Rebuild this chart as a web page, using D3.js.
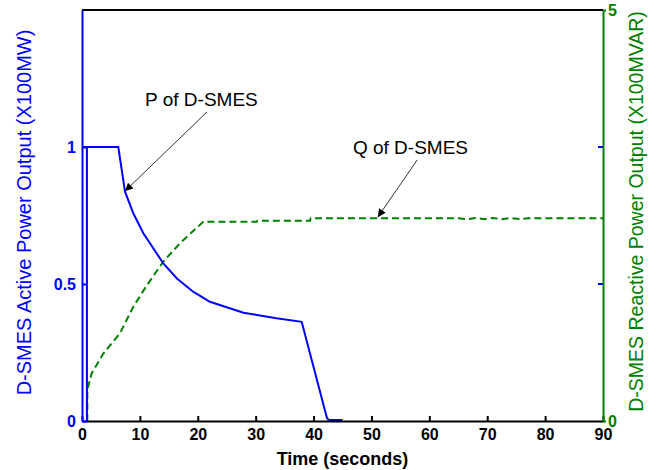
<!DOCTYPE html>
<html>
<head>
<meta charset="utf-8">
<script src="https://cdn.jsdelivr.net/npm/d3@7"></script>
<style>
  body { margin: 0; background: #fff; }
  svg { font-family: "Liberation Sans", Arial, sans-serif; }
</style>
</head>
<body>
<div id="chart"></div>
<script>
// time ticks (seconds)
const xTicks = [0, 10, 20, 30, 40, 50, 60, 70, 80, 90];
const leftTicks = [0, 0.5, 1];
const rightTicks = [0, 5];

// P of D-SMES, [time, X100MW]
const pData = [
    [0, 1], [0.85, 1], [0.85, 0], [0.85, 1], [6.27, 1], [7.43, 0.837],
    [8.86, 0.758], [10.6, 0.685], [14.05, 0.575], [16.4, 0.52], [19.2, 0.472],
    [22.1, 0.435], [27.9, 0.395], [33.6, 0.375], [37.95, 0.362],
    [42.3, 0.012], [42.6, 0.004], [45, 0.004]
];

// Q of D-SMES, [time, X100MVAR]
const qData = [
    [0.92, 0], [0.92, 0.377], [1.67, 0.58], [3.68, 0.82], [6.56, 1.067],
    [8.86, 1.39], [11.2, 1.65], [14.05, 1.94], [16.9, 2.16], [20.96, 2.425],
    [30.2, 2.425], [30.3, 2.437], [39.4, 2.437], [39.5, 2.466], [65, 2.466],
    [66.5, 2.454], [68, 2.47], [69.5, 2.456], [71, 2.47], [72.5, 2.455],
    [74, 2.47], [75.5, 2.457], [77, 2.466], [90, 2.466]
];

const width = 663, height = 470;
const margin = { left: 82, right: 60, top: 10, bottom: 49 };

const svg = d3.select("#chart").append("svg")
    .attr("width", width)
    .attr("height", height);

const x = d3.scaleLinear().domain([0, 90]).range([margin.left, width - margin.right]);
const yL = d3.scaleLinear().domain([0, 1.5]).range([height - margin.bottom, margin.top]);
const yR = d3.scaleLinear().domain([0, 5]).range([height - margin.bottom, margin.top]);

const blue = "#0000ff", green = "#008000";
const x0 = x(0), x1 = x(90), yb = yL(0), yt = yL(1.5);
const fmt = d3.format("~g");

// frame top
svg.append("line").attr("x1", x0).attr("x2", x1).attr("y1", yt).attr("y2", yt)
    .attr("stroke", "#000").attr("stroke-width", 2);

// curves
const lineP = d3.line().x(d => x(d[0])).y(d => yL(d[1]));
const lineQ = d3.line().x(d => x(d[0])).y(d => yR(d[1]));

svg.append("path").datum(qData).attr("d", lineQ)
    .attr("fill", "none").attr("stroke", green).attr("stroke-width", 2)
    .attr("stroke-dasharray", "7,4");

svg.append("path").datum(pData).attr("d", lineP)
    .attr("fill", "none").attr("stroke", blue).attr("stroke-width", 2);

// bottom axis
const xAxis = svg.append("g").attr("transform", `translate(0,${yb})`)
    .call(d3.axisBottom(x).tickValues(xTicks).tickFormat(fmt)
        .tickSizeInner(-5).tickSizeOuter(0).tickPadding(8));
xAxis.select(".domain").attr("stroke", "#000").attr("stroke-width", 2);
xAxis.selectAll(".tick line").attr("stroke", "#000").attr("stroke-width", 2);
xAxis.selectAll("text").attr("font-size", 16).attr("font-weight", "bold").attr("fill", "#000");

// left axis
const lAxis = svg.append("g").attr("transform", `translate(${x0},0)`)
    .call(d3.axisLeft(yL).tickValues(leftTicks).tickFormat(fmt)
        .tickSizeInner(-5).tickSizeOuter(0).tickPadding(6));
lAxis.select(".domain").attr("stroke", blue).attr("stroke-width", 2);
lAxis.selectAll(".tick line").attr("stroke", blue).attr("stroke-width", 2);
lAxis.selectAll("text").attr("font-size", 16).attr("font-weight", "bold").attr("fill", blue);

// left ticks mirrored on the right side
svg.append("g").selectAll("line").data(leftTicks.filter(d => d > 0)).join("line")
    .attr("x1", x1 - 5).attr("x2", x1).attr("y1", d => yL(d)).attr("y2", d => yL(d))
    .attr("stroke", blue).attr("stroke-width", 2);

// right axis
const rAxis = svg.append("g").attr("transform", `translate(${x1},0)`)
    .call(d3.axisRight(yR).tickValues(rightTicks).tickFormat(fmt)
        .tickSizeInner(3).tickSizeOuter(0).tickPadding(2));
rAxis.select(".domain").attr("stroke", green).attr("stroke-width", 2);
rAxis.selectAll(".tick line").attr("stroke", green).attr("stroke-width", 2);
rAxis.selectAll("text").attr("font-size", 16).attr("font-weight", "bold").attr("fill", green);

// axis titles
svg.append("text")
    .attr("transform", `translate(31,${(yt + yb) / 2 - 3}) rotate(-90)`)
    .attr("text-anchor", "middle")
    .attr("font-size", 20).attr("fill", blue)
    .text("D-SMES Active Power Output (X100MW)");

svg.append("text")
    .attr("transform", `translate(638,${(yt + yb) / 2 - 4}) rotate(-90)`)
    .attr("text-anchor", "middle").attr("dominant-baseline", "middle")
    .attr("font-size", 19.5).attr("fill", green)
    .text("D-SMES Reactive Power Output (X100MVAR)");

svg.append("text")
    .attr("x", (x0 + x1) / 2).attr("y", 465)
    .attr("text-anchor", "middle")
    .attr("font-size", 18).attr("font-weight", "bold").attr("fill", "#000")
    .text("Time (seconds)");

// annotations
const defs = svg.append("defs");
defs.append("marker").attr("id", "arrow")
    .attr("viewBox", "0 0 10 10").attr("refX", 10).attr("refY", 5)
    .attr("markerWidth", 11).attr("markerHeight", 8)
    .attr("markerUnits", "userSpaceOnUse").attr("orient", "auto")
    .append("path").attr("d", "M0,0L10,5L0,10Z").attr("fill", "#000");

const notes = [
    { label: "P of D-SMES", y: yL, tx: 10.9, ty: 1.15, from: [21.6, 1.128], to: [7.43, 0.839] },
    { label: "Q of D-SMES", y: yR, tx: 46.8, ty: 3.245, from: [57.9, 3.175], to: [51.1, 2.48] }
];

notes.forEach(n => {
    svg.append("line")
        .attr("x1", x(n.from[0])).attr("y1", n.y(n.from[1]))
        .attr("x2", x(n.to[0])).attr("y2", n.y(n.to[1]))
        .attr("stroke", "#333").attr("stroke-width", 1)
        .attr("marker-end", "url(#arrow)");
    svg.append("text")
        .attr("x", x(n.tx)).attr("y", n.y(n.ty))
        .attr("font-size", 19).attr("fill", "#000")
        .text(n.label);
});
</script>
</body>
</html>
